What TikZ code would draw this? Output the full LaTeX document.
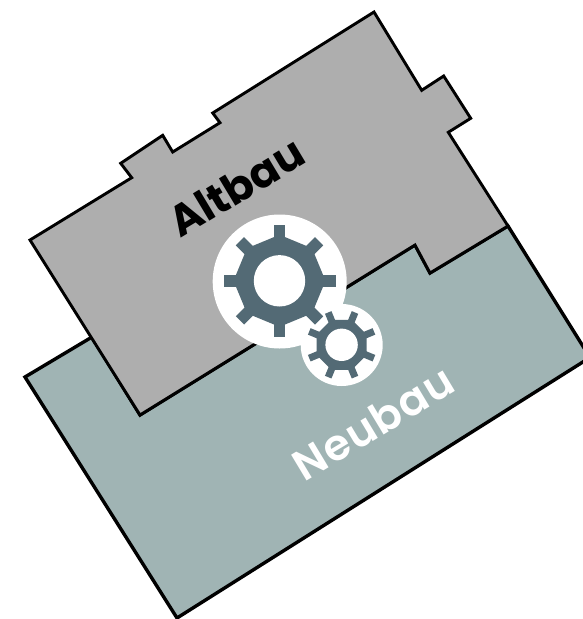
\documentclass[tikz,border=0pt]{standalone}
\usepackage{fontspec}
\setmainfont{Poppins}
\newfontfamily\neufont[LetterSpace=3]{Poppins SemiBold}
\definecolor{altgrey}{HTML}{AEAEAE}
\definecolor{neugreen}{HTML}{A0B4B4}
\definecolor{gearblue}{HTML}{536A75}
\tikzset{
  neubuilding/.style={draw=black,line width=3.4pt,line join=miter},
  altbuilding/.style={draw=black,line width=2.9pt,line join=miter},
  label text/.style={rotate=31,inner sep=0pt},
}
% #1 centre, #2 hole radius, #3 body radius, #4 tooth radius, #5 tooth width, #6 offset angle
\newcommand{\gearshape}[6]{%
  \begin{scope}[shift={#1}]
    \fill[gearblue] (#6:#3)
      \foreach \k in {1,...,7} {-- (#6+\k*45:#3)} -- cycle;
    \foreach \k in {0,...,7} {
      \fill[gearblue,rotate=#6+\k*45] (#3-5,-#5/2) rectangle (#4,#5/2);
    }
    \fill[white] (0,0) circle (#2);
  \end{scope}}
\begin{document}
\begin{tikzpicture}[x=1pt,y=-1pt]
\useasboundingbox (0,0) rectangle (583,619);
\clip (0,0) rectangle (583,619);
\fill[white] (0,0) rectangle (583,619);
\draw[neubuilding,fill=neugreen] (92,337) -- (25,377) -- (177,618) -- (590,357.5) -- (508,226) -- (430,273) -- (415,245) -- (140,415) -- cycle;
\draw[altbuilding,fill=altgrey] (30,240) -- (131.7,177.7) -- (120.7,163.3) -- (162.7,135.3) -- (172.7,152) -- (220,122.7) -- (212.7,113) -- (374,12) -- (421.7,90.3) -- (443.7,76) -- (470.7,118.3) -- (448.3,132.3) -- (508,226) -- (430,273) -- (415,245) -- (140,415) -- cycle;
\node[label text,text=black,font=\bfseries\fontsize{43}{43}\selectfont] (altbau) at (236,187) {Altbau};
\node[label text,text=white,font=\neufont\fontsize{43}{43}\selectfont] (neubau) at (373,423) {Neubau};
\fill[white] (279.7,281.5) circle (67);
\fill[white] (341.7,345) circle (41);
\gearshape{(279.5,280.8)}{25.7}{46}{56}{11.7}{0}
\gearshape{(341.6,344.8)}{16.2}{27}{35}{7}{22.5}
\end{tikzpicture}
\end{document}
